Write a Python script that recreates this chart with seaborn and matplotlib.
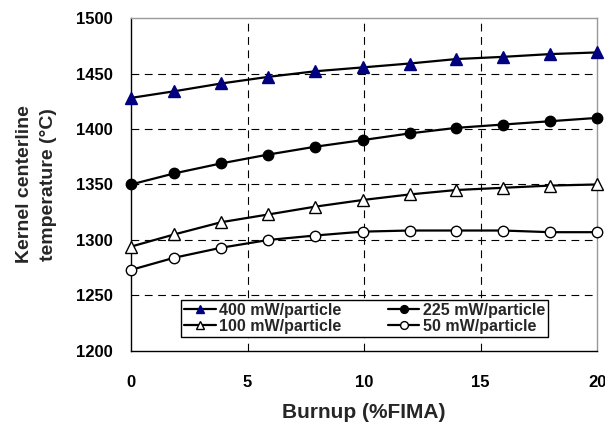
import numpy as np
import pandas as pd
import matplotlib
matplotlib.use("Agg")
import matplotlib.pyplot as plt
import seaborn as sns

# burnup positions (%FIMA)
burnup = [0, 1.86, 3.87, 5.9, 7.9, 9.94, 11.95, 13.95, 15.96, 17.99, 20.0]

# kernel centerline temperature (C) per particle power
t400 = [1428, 1434, 1441, 1447, 1452, 1455.5, 1459, 1463, 1465, 1467.5, 1469]
t225 = [1350, 1360, 1369, 1377, 1384, 1390, 1396, 1401, 1404, 1407, 1410]
t100 = [1294, 1305, 1316, 1323, 1330, 1336, 1341, 1345, 1347, 1349, 1350]
t50 = [1273, 1284, 1293, 1300, 1304, 1307.5, 1308.5, 1308.5, 1308.5, 1307, 1307]

labels = ["400 mW/particle", "225 mW/particle", "100 mW/particle", "50 mW/particle"]
x_ticks = [0, 5, 10, 15, 20]
y_ticks = [1200, 1250, 1300, 1350, 1400, 1450, 1500]

sns.set_style("white")
plt.rcParams["font.family"] = ["Liberation Sans", "DejaVu Sans"]
plt.rcParams["font.weight"] = "bold"

fig = plt.figure(figsize=(6.05, 4.29), dpi=100)
ax = fig.add_axes([0.2165, 0.182, 0.7705, 0.776])

styles = [
    dict(marker="^", markerfacecolor="#000080", markeredgecolor="#000080", markersize=8),
    dict(marker="o", markerfacecolor="black", markeredgecolor="black", markersize=7.5),
    dict(marker="^", markerfacecolor="white", markeredgecolor="black", markersize=8),
    dict(marker="o", markerfacecolor="white", markeredgecolor="black", markersize=7.5),
]

for temps, lab, st in zip([t400, t225, t100, t50], labels, styles):
    sns.lineplot(x=burnup, y=temps, ax=ax, color="black", linewidth=1.6,
                 label=lab, markeredgewidth=1.0, clip_on=False, zorder=3, **st)

ax.set_xlim(0, 20)
ax.set_ylim(1200, 1500)
ax.set_xticks(x_ticks)
ax.set_yticks(y_ticks)
ax.tick_params(axis="both", labelsize=12, length=5, width=1, direction="out",
               colors="black", pad=8)
ax.tick_params(axis="x", pad=12)

for v in x_ticks[1:-1]:
    ax.axvline(v, color="black", linestyle=(0, (7, 5)), linewidth=0.8, zorder=1)
for v in y_ticks[1:-1]:
    ax.axhline(v, color="black", linestyle=(0, (7, 5)), linewidth=0.8, zorder=1)

ax.spines["left"].set_color("black")
ax.spines["bottom"].set_color("black")
ax.spines["top"].set_color("#999999")
ax.spines["right"].set_color("#999999")
for s in ax.spines.values():
    s.set_linewidth(1.0)

ax.set_xlabel("Burnup (%FIMA)", fontsize=15, fontweight="bold", labelpad=10)
ax.set_ylabel("Kernel centerline\ntemperature (\u00b0C)", fontsize=14, fontweight="bold",
              labelpad=14, linespacing=1.5)

h, l = ax.get_legend_handles_labels()
order = [0, 2, 1, 3]
leg = ax.legend([h[i] for i in order], [l[i] for i in order], ncol=2,
                loc="lower left", bbox_to_anchor=(0.09, 0.018, 0.822, 0.126),
                mode="expand", fontsize=11.5, frameon=True, fancybox=False,
                edgecolor="black", framealpha=1, handlelength=2.0,
                handletextpad=0.2, labelspacing=0.05, borderpad=0.2,
                columnspacing=1.0, markerscale=0.75)
leg.get_frame().set_linewidth(1.0)
leg.set_zorder(5)

fig.savefig("out.png", dpi=100)
